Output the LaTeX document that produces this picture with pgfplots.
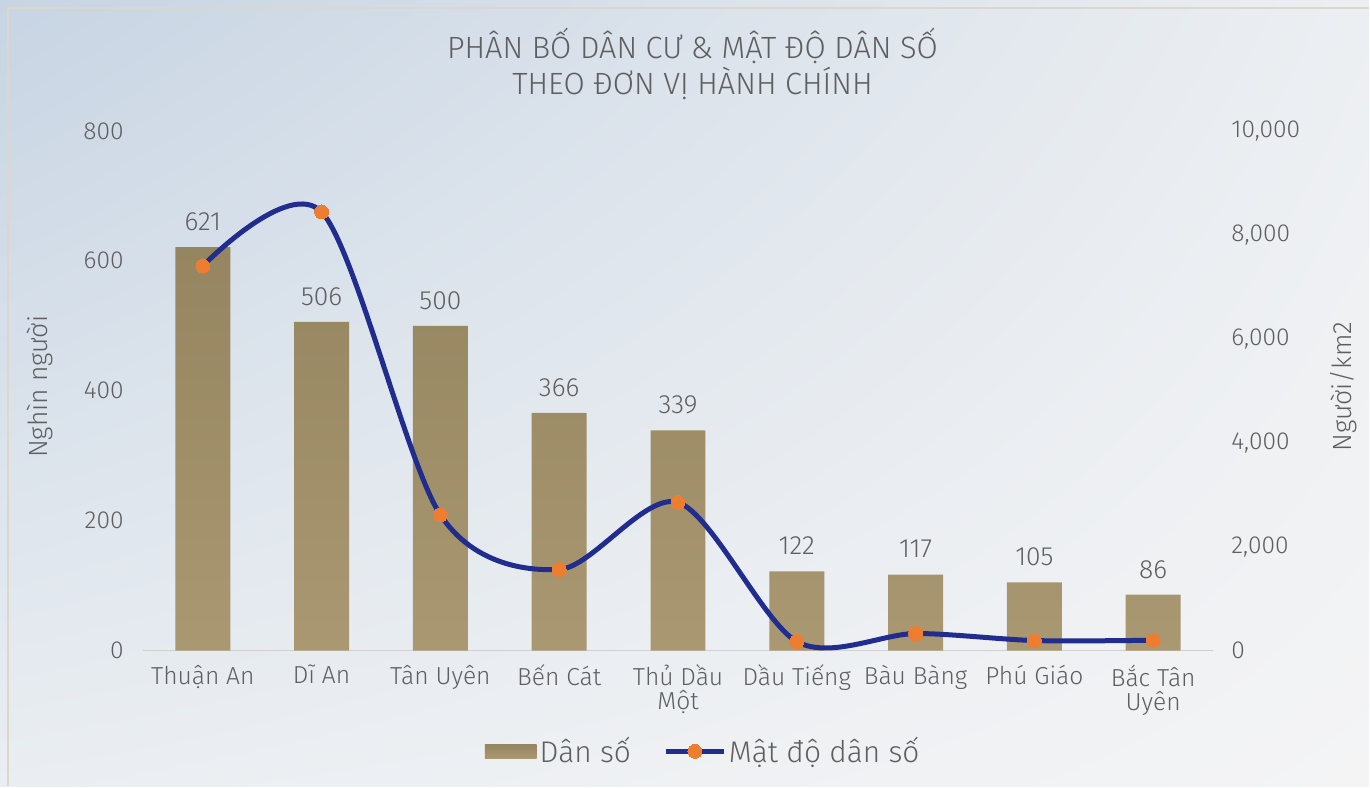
\documentclass[border=0pt]{standalone}
\usepackage{fontspec}
\setmainfont{Fira Sans Light}
\usepackage{pgfplots}
\pgfplotsset{compat=1.18}
\usetikzlibrary{shadings}
\definecolor{bgUL}{HTML}{C7D4E3}
\definecolor{bgUR}{HTML}{ECEFF2}
\definecolor{bgLL}{HTML}{EAEEF2}
\definecolor{bgLR}{HTML}{F4F4F5}
\definecolor{frame}{HTML}{DCD6CC}
\definecolor{barTop}{HTML}{958560}
\definecolor{barBot}{HTML}{A99871}
\definecolor{lineCol}{HTML}{212D8E}
\definecolor{dotCol}{HTML}{ED7D31}
\definecolor{txt}{HTML}{5F5F5F}
\definecolor{axCol}{HTML}{D0D0D0}
\pgfplotsset{
  lineleg/.style={legend image code/.code={\draw[mark repeat=2, mark phase=2, ##1] plot coordinates {(0cm,0cm) (0.57cm,0cm) (1.14cm,0cm)};}},
  barleg/.style={legend image code/.code={\shade[draw=none, top color=barTop, bottom color=barBot] (0cm,-0.14cm) rectangle (1.04cm,0.14cm);}},
}
\begin{document}
\begin{tikzpicture}
\shade[upper left=bgUL, upper right=bgUR, lower left=bgLL, lower right=bgLR] (0,0) rectangle (27.4,15.74);
\draw[frame, line width=0.04cm] (0.16,0) -- (0.16,15.58) -- (27.4,15.58);
\node[txt, align=center, font=\fontsize{17.5}{20}\selectfont] at (13.86,14.46) {PHÂN BỐ DÂN CƯ \& MẬT ĐỘ DÂN SỐ\\THEO ĐƠN VỊ HÀNH CHÍNH};
\node[txt, rotate=90, font=\fontsize{15}{18}\selectfont] at (0.8,8.0) {Nghìn người};
\node[txt, rotate=90, font=\fontsize{15}{18}\selectfont] at (26.9,8.0) {Người/km2};
\begin{axis}[
  at={(2.87cm,2.72cm)}, anchor=south west,
  width=21.4cm, height=10.4cm, scale only axis,
  xmin=-0.5, xmax=8.5, ymin=0, ymax=800,
  ytick={0,200,400,600,800},
  xtick={0,...,8},
  xticklabels={Thuận An, Dĩ An, Tân Uyên, Bến Cát, {Thủ Dầu\\Một}, Dầu Tiếng, Bàu Bàng, Phú Giáo, {Bắc Tân\\Uyên}},
  xticklabel style={align=center, txt, font=\fontsize{14}{13.5}\selectfont, inner sep=0pt, yshift=-0.28cm},
  yticklabel style={txt, font=\fontsize{14}{16}\selectfont, inner sep=0pt, xshift=-0.39cm},
  /pgf/number format/assume math mode=true,
  axis line style={draw=none},
  major tick length=0pt, tick style={draw=none},
  scaled y ticks=false,
  ybar, bar width=1.1cm,
  nodes near coords,
  every node near coord/.append style={txt, font=\fontsize{15}{18}\selectfont, anchor=south, inner sep=0pt, yshift=0.32cm},
  clip=false,
]
\draw[axCol, line width=0.03cm] (rel axis cs:0,0) -- (rel axis cs:1,0);
\addplot[draw=none, top color=barTop, bottom color=barBot] coordinates {(0,621) (1,506) (2,500) (3,366) (4,339) (5,122) (6,117) (7,105) (8,86)};
\end{axis}
\begin{axis}[
  at={(2.87cm,2.72cm)}, anchor=south west,
  width=21.4cm, height=10.4cm, scale only axis,
  xmin=-0.5, xmax=8.5, ymin=0, ymax=10000,
  ytick={0,2000,4000,6000,8000,10000},
  hide x axis,
  yticklabel pos=right,
  yticklabel style={txt, font=\fontsize{14}{16}\selectfont, inner sep=0pt, xshift=0.37cm, /pgf/number format/1000 sep={,}},
  /pgf/number format/assume math mode=true,
  axis line style={draw=none},
  major tick length=0pt, tick style={draw=none},
  scaled y ticks=false,
  clip=false,
  legend columns=2,
  legend style={at={(0.524,-0.194)}, anchor=center, draw=none, fill=none, font=\fontsize{17}{20}\selectfont, text=txt, nodes={inner sep=0.06cm}, /tikz/every even column/.append style={column sep=0.6cm}},
]
\addlegendimage{barleg}
\addlegendentry{Dân số}
\addplot[lineCol, line width=0.1cm, smooth, tension=0.5, mark=*, mark size=0.14cm, mark options={draw=dotCol, fill=dotCol, line width=0pt}, lineleg]
 coordinates {(0,7400) (1,8440) (2,2610) (3,1560) (4,2850) (5,173) (6,327) (7,192) (8,198)};
\addlegendentry{Mật độ dân số}
\end{axis}
\end{tikzpicture}
\end{document}
